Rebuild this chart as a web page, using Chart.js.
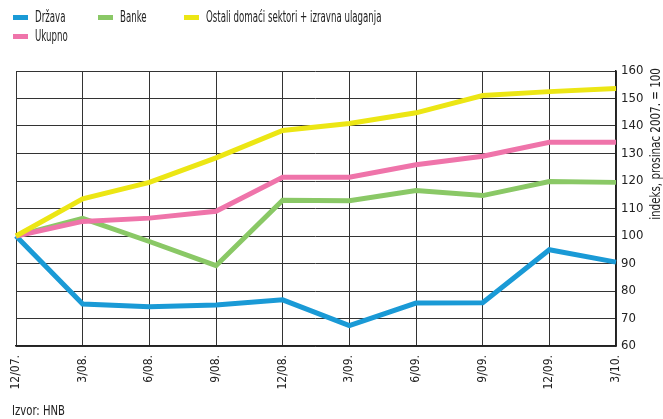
<!DOCTYPE html>
<html>
<head>
<meta charset="utf-8">
<script src="https://cdn.jsdelivr.net/npm/chart.js@4/dist/chart.umd.min.js"></script>
<style>
  body { margin: 0; background: #fff; font-family: "DejaVu Sans Condensed", sans-serif; color: #222; }
  #wrap { position: relative; width: 663px; height: 419px; }
  #chart { position: absolute; left: 0; top: 0; }
  .leg { position: absolute; font-size: 15px; line-height: 16px; white-space: nowrap; }
  .leg i { position: absolute; left: -22px; top: 6px; width: 15px; height: 5px; }
  .leg span { display: inline-block; transform: scaleX(0.64); transform-origin: left center; }
  #src { position: absolute; left: 12px; top: 402px; font-size: 14px; transform: scaleX(0.8); transform-origin: left center; }
</style>
</head>
<body>
<div id="wrap">
  <canvas id="chart" width="663" height="419"></canvas>
  <div class="leg" style="left:35px;top:9px"><i style="background:#1a9ad6"></i><span>Država</span></div>
  <div class="leg" style="left:120px;top:9px"><i style="background:#8ac866"></i><span>Banke</span></div>
  <div class="leg" style="left:206px;top:9px"><i style="background:#ece614"></i><span>Ostali domaći sektori + izravna ulaganja</span></div>
  <div class="leg" style="left:35px;top:28px"><i style="background:#ef74aa"></i><span>Ukupno</span></div>
  <div id="src">Izvor: HNB</div>
</div>
<script>
const ctx = document.getElementById('chart').getContext('2d');

// Podaci
const labels = ['12/07.', '3/08.', '6/08.', '9/08.', '12/08.', '3/09.', '6/09.', '9/09.', '12/09.', '3/10.'];
const drzava = [100, 75.3, 74.3, 74.9, 76.8, 67.4, 75.6, 75.7, 95.0, 90.5];
const banke = [100, 106.4, 98.0, 89.2, 113.0, 112.8, 116.5, 114.7, 119.8, 119.5];
const ostali = [100, 113.5, 119.5, 128.4, 138.4, 140.9, 144.8, 151.1, 152.5, 153.6];
const ukupno = [100, 105.3, 106.5, 109.0, 121.4, 121.4, 125.9, 129.0, 134.1, 134.1];
const yTicks = [60, 70, 80, 90, 100, 110, 120, 130, 140, 150, 160];

const FONT = '"DejaVu Sans Condensed", sans-serif';

function line(label, data, color, order) {
  return {
    label, data, order,
    borderColor: color,
    backgroundColor: color,
    borderWidth: 5,
    pointRadius: 0,
    tension: 0,
    fill: false
  };
}

// naslov osi y (rotirani tekst desno)
const axisTitle = {
  id: 'axisTitle',
  afterDraw(chart) {
    const c = chart.ctx;
    c.save();
    c.translate(656, 144);
    c.rotate(-Math.PI / 2);
    c.scale(0.82, 1);
    c.font = '14px ' + FONT;
    c.fillStyle = '#222';
    c.textAlign = 'center';
    c.textBaseline = 'middle';
    c.fillText('indeks, prosinac 2007. = 100', 0, 0);
    c.restore();
  }
};

new Chart(ctx, {
  type: 'line',
  data: {
    labels: labels,
    datasets: [
      line('Država', drzava, '#1a9ad6', 4),
      line('Banke', banke, '#8ac866', 3),
      line('Ostali domaći sektori + izravna ulaganja', ostali, '#ece614', 1),
      line('Ukupno', ukupno, '#ef74aa', 2)
    ]
  },
  plugins: [axisTitle],
  options: {
    responsive: false,
    animation: false,
    layout: { padding: { left: 16, top: 71, right: 0, bottom: 0 } },
    plugins: {
      legend: { display: false },
      tooltip: { enabled: false }
    },
    scales: {
      x: {
        offset: false,
        grid: { color: '#333', lineWidth: 1, drawTicks: false },
        border: { color: '#222', width: 1.5 },
        afterFit: (s) => { s.height = 73; },
        ticks: {
          minRotation: 90, maxRotation: 90, autoSkip: false,
          padding: 9,
          color: '#222',
          font: { size: 12, family: FONT }
        }
      },
      y: {
        position: 'right',
        min: 60, max: 160,
        afterFit: (s) => { s.width = 47; },
        afterBuildTicks: (s) => { s.ticks = yTicks.map(v => ({ value: v })); },
        grid: { color: '#333', lineWidth: 1, drawTicks: false },
        border: { color: '#222', width: 1.5 },
        ticks: {
          padding: 5,
          color: '#222',
          font: { size: 13, family: FONT }
        }
      }
    }
  }
});
</script>
</body>
</html>
